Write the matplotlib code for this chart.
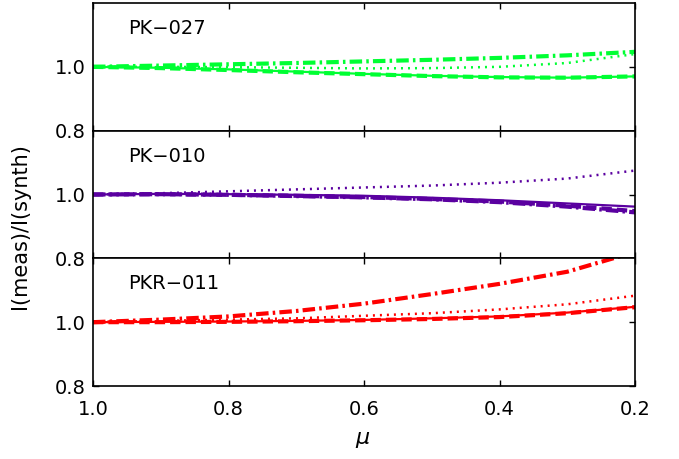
import numpy as np
import matplotlib.pyplot as plt

# mu grid and I(meas)/I(synth) ratios
mu = [1.0, 0.9, 0.8, 0.7, 0.6, 0.5, 0.4, 0.3, 0.2]

names = ['PK\u2212027', 'PK\u2212010', 'PKR\u2212011']
colors = ['#00ff33', '#5a00a0', '#ff0000']

solid = [
    [1.000, 0.997, 0.992, 0.985, 0.978, 0.972, 0.968, 0.966, 0.970],
    [1.000, 1.002, 1.001, 0.999, 0.996, 0.990, 0.982, 0.972, 0.962],
    [1.000, 1.001, 1.002, 1.004, 1.007, 1.012, 1.018, 1.030, 1.048],
]
dashed = [
    [1.000, 0.996, 0.990, 0.983, 0.977, 0.971, 0.967, 0.966, 0.970],
    [1.000, 1.001, 0.999, 0.996, 0.992, 0.986, 0.978, 0.965, 0.948],
    [1.000, 1.000, 1.001, 1.003, 1.006, 1.010, 1.016, 1.028, 1.047],
]
dotted = [
    [1.000, 1.000, 0.999, 0.997, 0.995, 0.996, 1.000, 1.012, 1.040],
    [1.000, 1.004, 1.010, 1.016, 1.022, 1.028, 1.037, 1.050, 1.075],
    [1.000, 1.004, 1.008, 1.012, 1.020, 1.028, 1.040, 1.056, 1.083],
]
dashdot = [
    [1.000, 1.004, 1.008, 1.012, 1.017, 1.022, 1.028, 1.036, 1.047],
    [1.000, 1.001, 0.999, 0.995, 0.991, 0.985, 0.976, 0.962, 0.944],
    [1.000, 1.008, 1.018, 1.035, 1.058, 1.088, 1.120, 1.158, 1.220],
]

xticks = [1.0, 0.8, 0.6, 0.4, 0.2]
yticks = [0.8, 1.0]

plt.rcParams['font.family'] = ['DejaVu Sans']

fig = plt.figure(figsize=(6.79, 4.59), dpi=100)
left, right = 93 / 679, 635 / 679
top, bottom = 1 - 3 / 459, 1 - 386 / 459
h = (top - bottom) / 3

for i in range(3):
    ax = fig.add_axes([left, top - (i + 1) * h, right - left, h])
    c = colors[i]
    ax.plot(mu, dashed[i], color=c, lw=3.0, dashes=(2.5, 1.2))
    ax.plot(mu, solid[i], color=c, lw=1.6)
    ax.plot(mu, dotted[i], color=c, lw=1.8, dashes=(0.8, 2.0))
    ax.plot(mu, dashdot[i], color=c, lw=3.0, dashes=(3.0, 1.0, 0.6, 1.0))
    ax.set_xlim(1.0, 0.2)
    ax.set_ylim(0.8, 1.2)
    ax.set_xticks(xticks)
    ax.set_yticks(yticks)
    ax.set_yticklabels(['0.8', '1.0'])
    ax.tick_params(direction='in', length=4, width=1, top=True, right=True,
                   labelsize=14, pad=5)
    ax.tick_params(axis='x', pad=10)
    for s in ax.spines.values():
        s.set_linewidth(1.2)
    if i < 2:
        ax.set_xticklabels([])
    else:
        ax.set_xticklabels(['1.0', '0.8', '0.6', '0.4', '0.2'])
    ax.text(0.065, 0.80, names[i], transform=ax.transAxes, fontsize=14,
            va='center', ha='left')

fig.text(363 / 679, 1 - 440 / 459, r'$\mu$', fontsize=16, ha='center', va='center')
fig.text(20 / 679, 1 - 226 / 459, 'I(meas)/I(synth)', fontsize=15,
         rotation=90, ha='center', va='center')

fig.savefig('out.png', dpi=100)
